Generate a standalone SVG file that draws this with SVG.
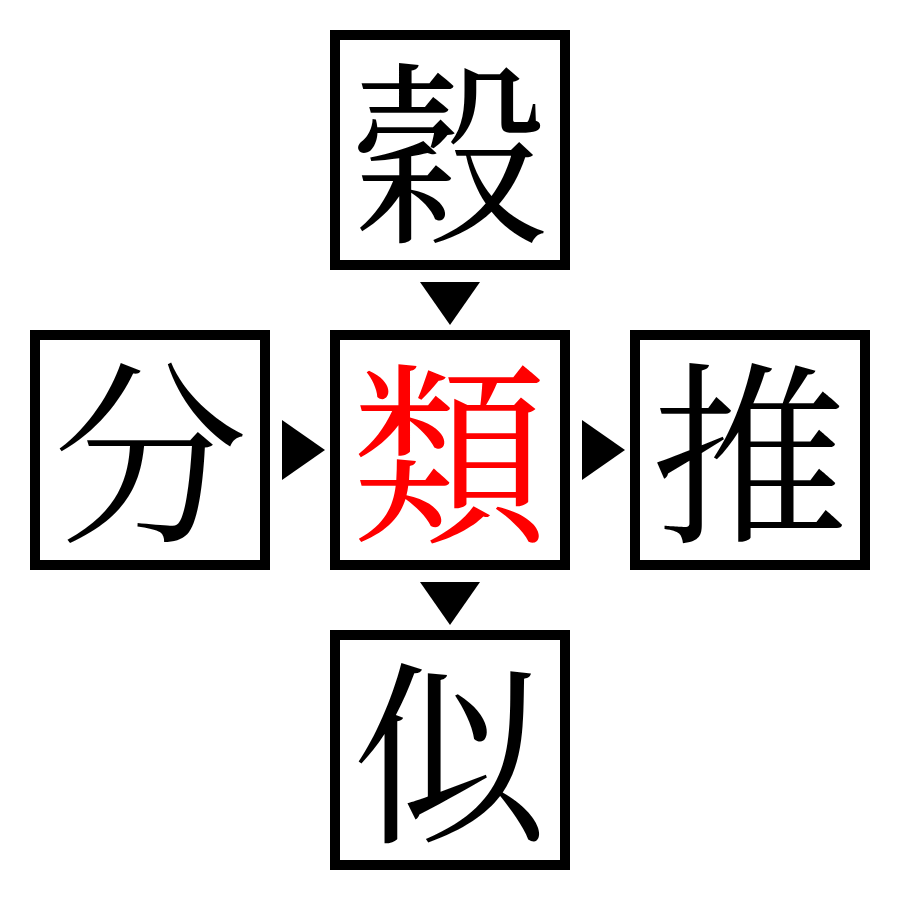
<svg xmlns="http://www.w3.org/2000/svg" width="900" height="900" viewBox="0 0 900 900">
<style>
.box{fill:#fff;stroke:#000;stroke-width:10}
.ch{font-family:"Noto Serif CJK JP","Noto Sans CJK JP",serif;font-size:196px;text-anchor:middle;dominant-baseline:central;fill:#000}
.hl{fill:#ff0000}
.arr{fill:#000}
</style>
<rect width="900" height="900" fill="#fff"/>
<g id="connectors">
<polygon class="arr" points="420,282 480,282 450,325"/>
<polygon class="arr" points="282,420 282,480 325,450"/>
<polygon class="arr" points="582,420 582,480 625,450"/>
<polygon class="arr" points="420,582 480,582 450,625"/>
</g>
<g id="node-top"><rect class="box" x="335" y="35" width="230" height="230"/><text class="ch" x="450" y="142">穀</text></g>
<g id="node-left"><rect class="box" x="35" y="335" width="230" height="230"/><text class="ch" x="150" y="442">分</text></g>
<g id="node-center"><rect class="box" x="335" y="335" width="230" height="230"/><text class="ch hl" x="450" y="442">類</text></g>
<g id="node-right"><rect class="box" x="635" y="335" width="230" height="230"/><text class="ch" x="750" y="442">推</text></g>
<g id="node-bottom"><rect class="box" x="335" y="635" width="230" height="230"/><text class="ch" x="450" y="742">似</text></g>
</svg>
